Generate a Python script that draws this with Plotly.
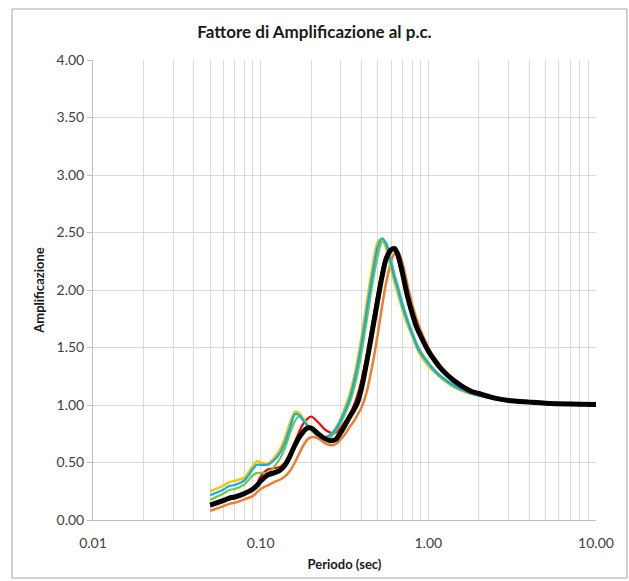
import plotly.graph_objects as go

periods = [0.05, 0.06, 0.065, 0.07, 0.08, 0.09, 0.095, 0.10, 0.11, 0.12, 0.13, 0.14, 0.15, 0.16, 0.17,
           0.18, 0.19, 0.20, 0.22, 0.24, 0.26, 0.28, 0.30, 0.32, 0.34, 0.36, 0.38, 0.40, 0.43, 0.46,
           0.50, 0.53, 0.56, 0.60, 0.63, 0.66, 0.70, 0.75, 0.80, 0.85, 0.90, 1.0, 1.1, 1.2, 1.4, 1.6,
           1.8, 2.0, 2.5, 3.0, 4.0, 5.0, 7.0, 10.0]

amp_red = [0.12, 0.16, 0.18, 0.19, 0.22, 0.27, 0.31, 0.38, 0.44, 0.45, 0.46, 0.50, 0.58, 0.68, 0.77,
           0.84, 0.88, 0.90, 0.85, 0.79, 0.76, 0.76, 0.80, 0.86, 0.92, 1.00, 1.10, 1.22, 1.44, 1.68,
           1.98, 2.17, 2.30, 2.36, 2.34, 2.26, 2.12, 1.93, 1.79, 1.67, 1.59, 1.46, 1.37, 1.30, 1.21, 1.16,
           1.12, 1.10, 1.06, 1.04, 1.025, 1.015, 1.008, 1.005]

amp_orange = [0.08, 0.12, 0.14, 0.15, 0.18, 0.21, 0.24, 0.27, 0.30, 0.33, 0.35, 0.38, 0.43, 0.50, 0.58,
              0.65, 0.70, 0.72, 0.71, 0.67, 0.65, 0.66, 0.70, 0.75, 0.81, 0.86, 0.92, 0.98, 1.12, 1.32,
              1.62, 1.86, 2.06, 2.25, 2.32, 2.33, 2.24, 2.05, 1.88, 1.75, 1.65, 1.50, 1.40, 1.33, 1.23, 1.17,
              1.13, 1.10, 1.06, 1.04, 1.025, 1.015, 1.008, 1.005]

amp_green = [0.175, 0.23, 0.26, 0.27, 0.31, 0.39, 0.41, 0.41, 0.41, 0.46, 0.53, 0.63, 0.76, 0.86, 0.90,
             0.87, 0.82, 0.78, 0.73, 0.71, 0.72, 0.77, 0.84, 0.93, 1.02, 1.14, 1.29, 1.46, 1.74, 2.02,
             2.30, 2.42, 2.41, 2.26, 2.13, 2.03, 1.89, 1.75, 1.64, 1.54, 1.47, 1.37, 1.30, 1.25, 1.18, 1.13,
             1.10, 1.085, 1.05, 1.035, 1.02, 1.013, 1.007, 1.004]

amp_gold = [0.25, 0.30, 0.33, 0.34, 0.37, 0.47, 0.51, 0.50, 0.49, 0.54, 0.61, 0.72, 0.85, 0.94, 0.93,
            0.88, 0.83, 0.80, 0.75, 0.72, 0.74, 0.80, 0.88, 0.99, 1.10, 1.24, 1.41, 1.60, 1.90, 2.17,
            2.42, 2.44, 2.36, 2.18, 2.06, 1.96, 1.83, 1.70, 1.60, 1.50, 1.43, 1.34, 1.28, 1.23, 1.16, 1.12,
            1.095, 1.08, 1.05, 1.033, 1.02, 1.013, 1.007, 1.004]

amp_cyan = [0.215, 0.265, 0.295, 0.305, 0.345, 0.445, 0.48, 0.48, 0.48, 0.52, 0.58, 0.68, 0.81, 0.92, 0.91,
            0.86, 0.82, 0.79, 0.74, 0.72, 0.74, 0.79, 0.87, 0.96, 1.06, 1.20, 1.36, 1.54, 1.83, 2.10,
            2.38, 2.45, 2.40, 2.22, 2.10, 2.00, 1.86, 1.73, 1.62, 1.52, 1.45, 1.36, 1.29, 1.24, 1.17, 1.13,
            1.10, 1.08, 1.05, 1.035, 1.02, 1.013, 1.007, 1.004]

amp_mean = [0.13, 0.17, 0.19, 0.20, 0.23, 0.27, 0.30, 0.34, 0.39, 0.41, 0.43, 0.48, 0.56, 0.65, 0.72,
            0.77, 0.80, 0.80, 0.75, 0.71, 0.69, 0.70, 0.76, 0.83, 0.90, 0.96, 1.03, 1.15, 1.38, 1.62,
            1.92, 2.12, 2.27, 2.35, 2.36, 2.30, 2.15, 1.95, 1.80, 1.68, 1.60, 1.47, 1.38, 1.31, 1.22, 1.16,
            1.12, 1.10, 1.06, 1.04, 1.025, 1.015, 1.008, 1.005]

x_ticks = [0.01, 0.1, 1, 10]
x_labels = ["0.01", "0.10", "1.00", "10.00"]

series = [
    ("Red", amp_red, "#FF0000", 2.2),
    ("Orange", amp_orange, "#ED7D31", 2.5),
    ("Gold", amp_gold, "#FFC000", 2.5),
    ("Green", amp_green, "#7CC242", 2.2),
    ("Cyan", amp_cyan, "#00B0F0", 2.2),
    ("Media", amp_mean, "#000000", 5),
]

fig = go.Figure()
for name, vals, color, w in series:
    fig.add_trace(go.Scatter(x=periods, y=vals, mode="lines", name=name,
                             line=dict(color=color, width=w, shape="spline", smoothing=0.8),
                             showlegend=False))

minor_vals = [m * 10 ** e for e in (-2, -1, 0) for m in range(2, 10)]

font_family = "Lato, 'Open Sans', sans-serif"
fig.update_layout(
    width=629, height=581,
    margin=dict(l=93, r=33, t=60, b=61),
    paper_bgcolor="white", plot_bgcolor="white",
    font=dict(family=font_family, color="#404040"),
    title=dict(text="<b>Fattore di Amplificazione al p.c.</b>", x=0.5, xanchor="center",
               y=1 - 32 / 581, yanchor="middle", yref="container",
               font=dict(size=17, color="#1a1a1a", family=font_family)),
    xaxis=dict(type="log", range=[-2, 1], tickmode="array", tickvals=x_ticks, ticktext=x_labels,
               showgrid=True, gridcolor="#d9d9d9", gridwidth=1,
               showline=True, linecolor="#bfbfbf", linewidth=1, ticks="",
               ticklabelstandoff=10,
               tickfont=dict(size=14, color="#404040"),
               minor=dict(tickmode="array", tickvals=minor_vals, showgrid=True,
                          gridcolor="#d9d9d9", gridwidth=1, ticks=""),
               title=dict(text="<b>Periodo (sec)</b>", font=dict(size=13, color="#1a1a1a"), standoff=10),
               zeroline=False),
    yaxis=dict(range=[0, 4], dtick=0.5, tick0=0, tickformat=".2f",
               showgrid=True, gridcolor="#d9d9d9", gridwidth=1,
               showline=True, linecolor="#bfbfbf", linewidth=1,
               ticks="outside", ticklen=5, tickcolor="#bfbfbf",
               tickfont=dict(size=14, color="#404040"),
               title=dict(text="<b>Amplificazione</b>", font=dict(size=13, color="#1a1a1a"), standoff=8),
               zeroline=False),
)

# outer chart border
fig.add_shape(type="rect", xref="paper", yref="paper",
              x0=(12 - 93) / 503, x1=(627 - 93) / 503,
              y0=(520 - 578) / 460, y1=(520 - 9) / 460,
              line=dict(color="#a6a6a6", width=1), fillcolor="rgba(0,0,0,0)", layer="below")

fig.write_html("out.html")
